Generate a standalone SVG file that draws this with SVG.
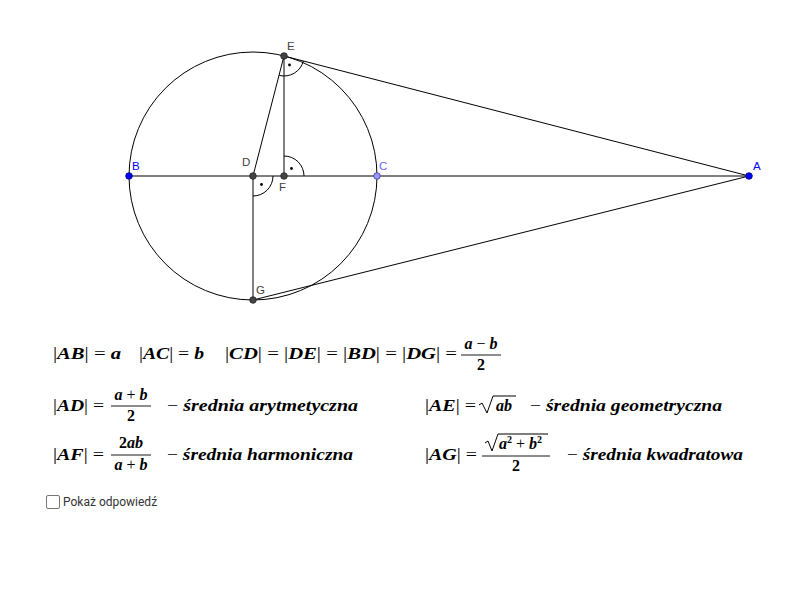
<svg xmlns="http://www.w3.org/2000/svg" width="800" height="600" viewBox="0 0 800 600">
<style>
.ln{stroke:#000;stroke-width:1;fill:none}
.mk{stroke:#000;stroke-width:1;fill:none}
.pt{fill:#444;stroke:#222;stroke-width:0.8}
.lbl{font-family:"Liberation Sans",Arial,sans-serif;font-size:11.5px;fill:#444}
.blu{fill:#0000ff}
.m{font-family:"Liberation Serif","Times New Roman",serif;font-size:16px;font-style:italic;font-weight:bold;fill:#000}
.u{font-style:normal;font-weight:normal}
.d{font-style:normal;font-weight:bold}
.fr{stroke:#000;stroke-width:0.9}
.cb{font-family:Roboto,"Liberation Sans",sans-serif;font-size:12px;fill:#333}
</style>
<rect width="800" height="600" fill="#fff"/>
<g id="connectors">
<circle class="ln" cx="253" cy="176" r="124"/>
<line class="ln" x1="129" y1="176" x2="749" y2="176"/>
<line class="ln" x1="253" y1="176" x2="284" y2="56"/>
<line class="ln" x1="284" y1="56" x2="284" y2="176" stroke="#333"/>
<line class="ln" x1="253" y1="176" x2="253" y2="300" stroke="#333"/>
<line class="ln" x1="284" y1="56" x2="749" y2="176"/>
<line class="ln" x1="253" y1="300" x2="749" y2="176"/>
<path class="mk" d="M279.2,75.4 A20,20 0 0 0 303.4,61"/>
<circle cx="289.5" cy="65" r="1.4" fill="#000"/>
<path class="mk" d="M284,156 A20,20 0 0 1 304,176"/>
<circle cx="291.5" cy="168.5" r="1.4" fill="#000"/>
<path class="mk" d="M273,176 A20,20 0 0 1 253,196"/>
<circle cx="261.5" cy="184.5" r="1.4" fill="#000"/>
</g>
<g id="B"><circle cx="129" cy="176" r="3.3" fill="#0000ff" stroke="#00007a" stroke-width="0.8"/><text class="lbl blu" x="132" y="170">B</text></g>
<g id="A"><circle cx="749" cy="176" r="3.3" fill="#0000ff" stroke="#00007a" stroke-width="0.8"/><text class="lbl blu" x="753" y="170">A</text></g>
<g id="C"><circle cx="377" cy="176" r="3.3" fill="#9999ff" stroke="#3a3a9a" stroke-width="0.8"/><text class="lbl" x="379" y="170" style="fill:#6666ff">C</text></g>
<g id="D"><circle class="pt" cx="253" cy="176" r="3.3"/><text class="lbl" x="242" y="166">D</text></g>
<g id="E"><circle class="pt" cx="284" cy="56" r="3.3"/><text class="lbl" x="287" y="50">E</text></g>
<g id="F"><circle class="pt" cx="284" cy="176" r="3.3"/><text class="lbl" x="279" y="191">F</text></g>
<g id="G"><circle class="pt" cx="253" cy="300" r="3.3"/><text class="lbl" x="256" y="294">G</text></g>
<g id="formulas">
<text class="m" x="53" y="359" textLength="68" lengthAdjust="spacingAndGlyphs"><tspan class="u">|</tspan>AB<tspan class="u">| = </tspan>a</text>
<text class="m" x="139" y="359" textLength="65" lengthAdjust="spacingAndGlyphs"><tspan class="u">|</tspan>AC<tspan class="u">| = </tspan>b</text>
<text class="m" x="225" y="359" textLength="232" lengthAdjust="spacingAndGlyphs"><tspan class="u">|</tspan>CD<tspan class="u">| = |</tspan>DE<tspan class="u">| = |</tspan>BD<tspan class="u">| = |</tspan>DG<tspan class="u">| =</tspan></text>
<text class="m" x="481" y="349" text-anchor="middle">a <tspan class="u">−</tspan> b</text>
<line class="fr" x1="461" y1="355" x2="501" y2="355"/>
<text class="m d" x="481" y="370" text-anchor="middle">2</text>

<text class="m" x="53" y="411" textLength="51" lengthAdjust="spacingAndGlyphs"><tspan class="u">|</tspan>AD<tspan class="u">| =</tspan></text>
<text class="m" x="131" y="400" text-anchor="middle">a <tspan class="u">+</tspan> b</text>
<line class="fr" x1="111" y1="406" x2="151" y2="406"/>
<text class="m d" x="131" y="421" text-anchor="middle">2</text>
<text class="m" x="167" y="411" textLength="191" lengthAdjust="spacingAndGlyphs"><tspan class="u">−</tspan> średnia arytmetyczna</text>

<text class="m" x="425" y="411" textLength="51" lengthAdjust="spacingAndGlyphs"><tspan class="u">|</tspan>AE<tspan class="u">| =</tspan></text>
<path d="M479,405 L482,403 L487,413 L493,396 L516,396" fill="none" stroke="#000" stroke-width="1"/>
<text class="m" x="496" y="411">ab</text>
<text class="m" x="530" y="411" textLength="192" lengthAdjust="spacingAndGlyphs"><tspan class="u">−</tspan> średnia geometryczna</text>

<text class="m" x="53" y="460" textLength="51" lengthAdjust="spacingAndGlyphs"><tspan class="u">|</tspan>AF<tspan class="u">| =</tspan></text>
<text class="m" x="131" y="448" text-anchor="middle"><tspan class="d">2</tspan>ab</text>
<line class="fr" x1="111" y1="455" x2="151" y2="455"/>
<text class="m" x="131" y="470" text-anchor="middle">a <tspan class="u">+</tspan> b</text>
<text class="m" x="167" y="460" textLength="186" lengthAdjust="spacingAndGlyphs"><tspan class="u">−</tspan> średnia harmoniczna</text>

<text class="m" x="425" y="460" textLength="52" lengthAdjust="spacingAndGlyphs"><tspan class="u">|</tspan>AG<tspan class="u">| =</tspan></text>
<path d="M485,443 L488,441 L492,451 L498,434 L548,434" fill="none" stroke="#000" stroke-width="1"/>
<text class="m" x="499" y="449">a<tspan class="d" font-size="10" dy="-6">2</tspan><tspan class="u" dy="6"> + </tspan>b<tspan class="d" font-size="10" dy="-6">2</tspan></text>
<line class="fr" x1="482" y1="456" x2="550" y2="456"/>
<text class="m d" x="516" y="471" text-anchor="middle">2</text>
<text class="m" x="567" y="460" textLength="176" lengthAdjust="spacingAndGlyphs"><tspan class="u">−</tspan> średnia kwadratowa</text>
</g>
<g id="checkbox">
<rect x="46.5" y="495.5" width="13" height="13" rx="1.5" fill="#fff" stroke="#777" stroke-width="1"/>
<text class="cb" x="63" y="506">Pokaż odpowiedź</text>
</g>
</svg>
